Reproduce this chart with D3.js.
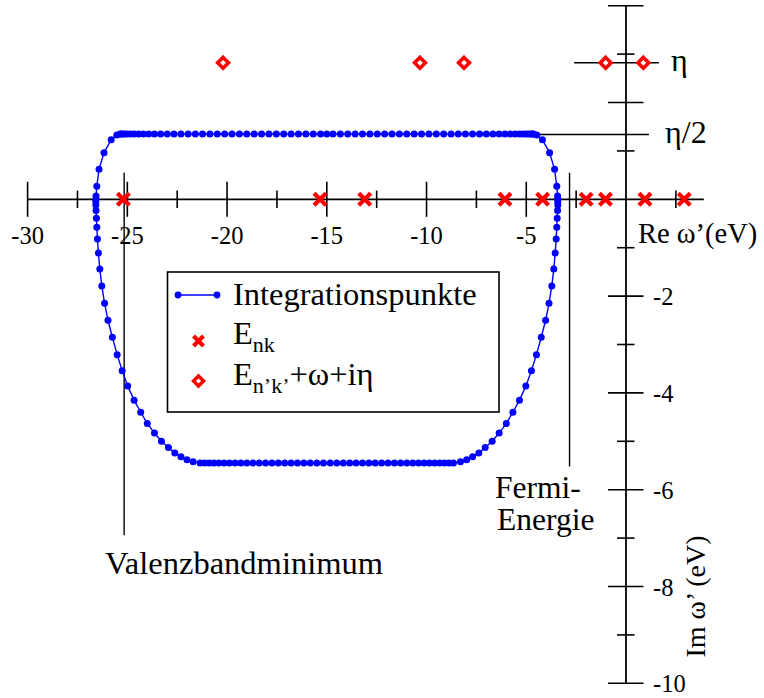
<!DOCTYPE html>
<html><head><meta charset="utf-8">
<script src="https://cdn.jsdelivr.net/npm/d3@7"></script>
<style>
body{margin:0;background:#fff}
svg{display:block}
text{font-family:"Liberation Serif","Times New Roman",Times,serif;fill:#000}
</style>
</head><body>
<svg id="c" width="764" height="698" font-family="Liberation Serif, Times New Roman, serif"></svg>
<script>
// ---------- data ----------
const xMajorTicks = [-30, -25, -20, -15, -10, -5];
const xTickLabels = ["-30", "-25", "-20", "-15", "-10", "-5"];
const xMinorTicks = [-27.5, -22.5, -17.5, -12.5, -7.5, -2.5, 2.5];
const yMajorTicks = [4, 2, -2, -4, -6, -8, -10];
const yMinorTicks = [3, 1, -1, -3, -5, -7, -9];
const yLabelValues = [-2, -4, -6, -8, -10];
const yTickLabels = ["-2", "-4", "-6", "-8", "-10"];

// E_nk poles on the real axis
const enkRe = [-25.2, -15.34, -13.1, -6.07, -4.18, -2.0, -1.03, 0.95, 2.92];
// E_n'k' + omega + i eta
const shiftedRe = [-20.2, -10.33, -8.12, -1.02, 0.87];
const etaIm = 2.82;
const etaHalfIm = 1.34;
const etaLineRe = [-2.6, 1.65];
const etaHalfLineRe = [-4.62, 1.15];
const vbmRe = -25.16, vbmIm = [0.55, -6.94];
const fermiRe = -2.83, fermiIm = [0.55, -5.52];

// Integration points (contour), in order around the contour
const topIm = 1.35;
const topRe = [-25.36, -25.31, -25.24, -25.14, -25.01, -24.85, -24.66, -24.44, -24.20, -23.93,
  -23.64, -23.33, -23.00, -22.66, -22.31, -21.95, -21.59, -21.23, -20.86, -20.49, -20.12,
  -19.75, -19.38, -19.01, -18.64, -18.27, -17.90, -17.53, -17.16, -16.79, -16.42, -16.05,
  -15.68, -15.31, -15.00, -14.69, -14.32, -13.95, -13.58, -13.21, -12.84, -12.47, -12.10,
  -11.73, -11.36, -10.99, -10.62, -10.25, -9.88, -9.51, -9.14, -8.77, -8.41, -8.05, -7.69,
  -7.34, -7.00, -6.67, -6.36, -6.07, -5.80, -5.56, -5.34, -5.15, -4.99, -4.86, -4.76, -4.69, -4.64];
const rightSide = [[-4.47, 1.33], [-4.19, 1.23], [-3.83, 0.96], [-3.58, 0.62], [-3.47, 0.27],
  [-3.43, 0.07], [-3.42, 0.00], [-3.42, -0.05], [-3.42, -0.12], [-3.43, -0.23], [-3.45, -0.39],
  [-3.47, -0.58], [-3.50, -0.82], [-3.55, -1.11], [-3.62, -1.44], [-3.72, -1.79], [-3.86, -2.15],
  [-4.03, -2.50], [-4.25, -2.85], [-4.49, -3.21], [-4.74, -3.54], [-5.02, -3.86], [-5.34, -4.15],
  [-5.67, -4.40], [-6.00, -4.63], [-6.36, -4.83], [-6.71, -5.00], [-7.06, -5.13], [-7.38, -5.24],
  [-7.69, -5.32], [-7.99, -5.38], [-8.30, -5.42]];
const bottomIm = -5.45;
const bottomRe = [-8.65, -8.87, -9.10, -9.34, -9.59, -9.85, -10.12, -10.40, -10.69, -10.99,
  -11.30, -11.61, -11.93, -12.25, -12.57, -12.89, -13.21, -13.53, -13.85, -14.17, -14.50,
  -14.83, -15.17, -15.50, -15.83, -16.15, -16.47, -16.79, -17.11, -17.43, -17.75, -18.07,
  -18.39, -18.70, -19.01, -19.31, -19.60, -19.88, -20.15, -20.41, -20.66, -20.90, -21.13, -21.35];
const leftSide = [[-21.70, -5.42], [-22.01, -5.38], [-22.31, -5.32], [-22.62, -5.24], [-22.94, -5.13],
  [-23.29, -5.00], [-23.64, -4.83], [-24.00, -4.63], [-24.33, -4.40], [-24.66, -4.15], [-24.98, -3.86],
  [-25.26, -3.54], [-25.51, -3.21], [-25.75, -2.85], [-25.97, -2.50], [-26.14, -2.15], [-26.28, -1.79],
  [-26.38, -1.44], [-26.45, -1.11], [-26.50, -0.82], [-26.53, -0.58], [-26.55, -0.39], [-26.57, -0.23],
  [-26.58, -0.12], [-26.58, -0.05], [-26.58, 0.00], [-26.57, 0.07], [-26.53, 0.27], [-26.42, 0.62],
  [-26.17, 0.96], [-25.81, 1.23], [-25.53, 1.33]];

// ---------- drawing ----------
const FONT = "Liberation Serif, Times New Roman, serif";
const svg = d3.select("#c");
const x = d3.scaleLinear().domain([-30, 0]).range([27.6, 626]);
const y = d3.scaleLinear().domain([0, -10]).range([199.3, 683.3]);
const BLUE = "#0000ff", RED = "#ff0000";

const contour = [
  ...topRe.map(r => [r, topIm]),
  ...rightSide,
  ...bottomRe.map(r => [r, bottomIm]),
  ...leftSide
];

const g = svg.append("g").attr("font-family", FONT);

// x axis
g.append("line").attr("x1", x(-30)).attr("x2", x(3.9)).attr("y1", y(0)).attr("y2", y(0))
  .attr("stroke", "#000").attr("stroke-width", 1.8);
g.selectAll(".xmaj").data(xMajorTicks).join("line")
  .attr("x1", d => x(d)).attr("x2", d => x(d)).attr("y1", y(0) - 17.5).attr("y2", y(0) + 17.5)
  .attr("stroke", "#000").attr("stroke-width", 1.6);
g.selectAll(".xmin").data(xMinorTicks).join("line")
  .attr("x1", d => x(d)).attr("x2", d => x(d)).attr("y1", y(0) - 8.7).attr("y2", y(0) + 8.7)
  .attr("stroke", "#000").attr("stroke-width", 1.6);
g.selectAll(".xlab").data(xMajorTicks).join("text")
  .attr("font-family", FONT)
  .attr("x", d => x(d)).attr("y", 244).attr("text-anchor", "middle")
  .attr("font-size", 24.5).text((d, i) => xTickLabels[i]);

// y axis
g.append("line").attr("x1", x(0)).attr("x2", x(0)).attr("y1", y(4)).attr("y2", y(-10))
  .attr("stroke", "#000").attr("stroke-width", 1.8);
g.selectAll(".ymaj").data(yMajorTicks).join("line")
  .attr("x1", x(0) - 18).attr("x2", x(0) + 17.5).attr("y1", d => y(d)).attr("y2", d => y(d))
  .attr("stroke", "#000").attr("stroke-width", 1.6);
g.selectAll(".ymin").data(yMinorTicks).join("line")
  .attr("x1", x(0) - 9).attr("x2", x(0) + 8.5).attr("y1", d => y(d)).attr("y2", d => y(d))
  .attr("stroke", "#000").attr("stroke-width", 1.6);
g.selectAll(".ylab").data(yLabelValues).join("text")
  .attr("font-family", FONT)
  .attr("x", 653).attr("y", d => y(d) + 9).attr("font-size", 24.5)
  .text((d, i) => yTickLabels[i]);

// axis titles
g.append("text").attr("font-family", FONT).attr("x", 638).attr("y", 243).attr("font-size", 28.5).text("Re ω’(eV)");
g.append("text").attr("font-family", FONT).attr("transform", "translate(705,596.5) rotate(-90)")
  .attr("text-anchor", "middle").attr("font-size", 28).text("Im ω’ (eV)");

// eta lines
g.append("line").attr("x1", x(etaLineRe[0])).attr("x2", x(etaLineRe[1]))
  .attr("y1", y(etaIm)).attr("y2", y(etaIm)).attr("stroke", "#000").attr("stroke-width", 1.6);
g.append("line").attr("x1", x(etaHalfLineRe[0])).attr("x2", x(etaHalfLineRe[1]))
  .attr("y1", y(etaHalfIm)).attr("y2", y(etaHalfIm)).attr("stroke", "#000").attr("stroke-width", 1.6);
g.append("text").attr("font-family", FONT).attr("x", 671).attr("y", 71).attr("font-size", 32).text("η");
g.append("text").attr("font-family", FONT).attr("x", 665).attr("y", 143).attr("font-size", 32).text("η/2");

// vertical markers
g.append("line").attr("x1", x(vbmRe)).attr("x2", x(vbmRe)).attr("y1", y(vbmIm[0])).attr("y2", y(vbmIm[1]))
  .attr("stroke", "#000").attr("stroke-width", 1.4);
g.append("line").attr("x1", x(fermiRe)).attr("x2", x(fermiRe)).attr("y1", y(fermiIm[0])).attr("y2", y(fermiIm[1]))
  .attr("stroke", "#000").attr("stroke-width", 1.4);
g.append("text").attr("font-family", FONT).attr("x", 105).attr("y", 574).attr("font-size", 32.5).text("Valenzbandminimum");
g.append("text").attr("font-family", FONT).attr("x", 495).attr("y", 498).attr("font-size", 31.5).text("Fermi-");
g.append("text").attr("font-family", FONT).attr("x", 497).attr("y", 530).attr("font-size", 31.5).text("Energie");

// contour
g.append("path").datum(contour)
  .attr("d", d3.line().x(d => x(d[0])).y(d => y(d[1])).curve(d3.curveLinearClosed))
  .attr("fill", "none").attr("stroke", BLUE).attr("stroke-width", 1.4);
g.selectAll(".pt").data(contour).join("circle")
  .attr("cx", d => x(d[0])).attr("cy", d => y(d[1])).attr("r", 3.5).attr("fill", BLUE);

// crosses
const crossPath = s => `M${-s},${-s}L${s},${s}M${-s},${s}L${s},${-s}`;
g.selectAll(".cr").data(enkRe).join("path")
  .attr("transform", d => `translate(${x(d)},${y(0)})`)
  .attr("d", crossPath(6)).attr("stroke", RED).attr("stroke-width", 4.2).attr("fill", "none");

// diamonds
const diamondPath = s => `M0,${-s}L${s},0L0,${s}L${-s},0Z`;
g.selectAll(".dm").data(shiftedRe).join("path")
  .attr("transform", d => `translate(${x(d)},${y(etaIm)})`)
  .attr("d", diamondPath(5.4)).attr("stroke", RED).attr("stroke-width", 3.6).attr("fill", "#fff");

// legend
const lg = svg.append("g").attr("font-family", FONT);
lg.append("rect").attr("x", 167.5).attr("y", 272).attr("width", 331.5).attr("height", 140)
  .attr("fill", "#fff").attr("stroke", "#000").attr("stroke-width", 1.6);
lg.append("line").attr("x1", 178).attr("x2", 217).attr("y1", 295).attr("y2", 295)
  .attr("stroke", BLUE).attr("stroke-width", 1.4);
[178, 217].forEach(cx => lg.append("circle").attr("cx", cx).attr("cy", 295).attr("r", 3.4).attr("fill", BLUE));
lg.append("text").attr("font-family", FONT).attr("x", 233).attr("y", 305).attr("font-size", 32.5).text("Integrationspunkte");
lg.append("path").attr("transform", "translate(198.5,341)").attr("d", crossPath(5))
  .attr("stroke", RED).attr("stroke-width", 4).attr("fill", "none");
const t2 = lg.append("text").attr("font-family", FONT).attr("x", 233).attr("y", 344).attr("font-size", 32.5);
t2.append("tspan").text("E");
t2.append("tspan").attr("font-size", 22).attr("dy", 8).text("nk");
lg.append("path").attr("transform", "translate(198.5,381)").attr("d", diamondPath(5))
  .attr("stroke", RED).attr("stroke-width", 3.5).attr("fill", "#fff");
const t3 = lg.append("text").attr("font-family", FONT).attr("x", 233).attr("y", 385).attr("font-size", 32.5);
t3.append("tspan").text("E");
t3.append("tspan").attr("font-size", 22).attr("dy", 8).text("n’k’");
t3.append("tspan").attr("dy", -8).text("+ω+iη");
</script>
</body></html>
